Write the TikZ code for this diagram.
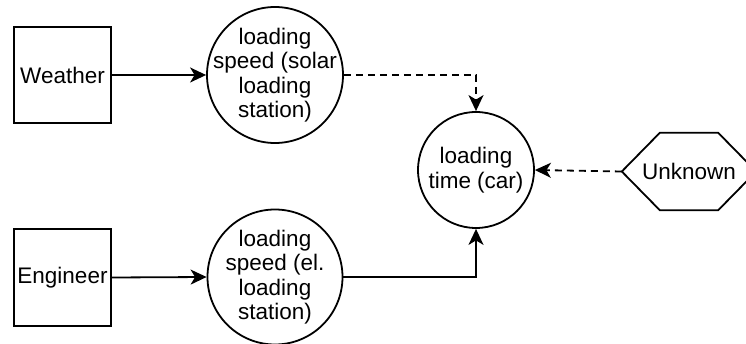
\documentclass[tikz,border=0pt]{standalone}
\usepackage{fontspec}
\setmainfont{Liberation Sans}
\usetikzlibrary{arrows.meta,calc}
\begin{document}
\begin{tikzpicture}[x=1pt,y=-1pt,
  every node/.style={font=\fontsize{22.5}{24.5}\selectfont, text=black, align=center, inner sep=0pt},
  sqbox/.style={draw, line width=1.8pt, minimum width=97pt, minimum height=96pt},
  bubble/.style={draw, circle, line width=1.8pt, minimum size=#1},
  link/.style={line width=1.8pt, -{Stealth[length=16pt,width=15pt,inset=4.5pt]}},
  hint/.style={link, dash pattern=on 7pt off 5pt}
]
\useasboundingbox (0,0) rectangle (746,344);

% input boxes
\node[sqbox] (weather) at (62.5,75) {Weather};
\node[sqbox, minimum height=97pt] (engineer) at (62.5,277.5) {Engineer};

% quantities: fixed-size circles with their labels laid on top
\node[bubble=136pt] (solar) at (275,75) {};
\node at (solar) {loading\\speed (solar\\loading\\station)};
\node[bubble=135pt] (el) at (275,277) {};
\node at (el) {loading\\speed (el.\\loading\\station)};
\node[bubble=116pt] (car) at (476,170) {};
\node at (car) {loading\\time (car)};

% unknown factor drawn as a hexagon around its label
\node[minimum width=134pt, minimum height=77pt] (unk) at (689,171.5) {Unknown};
\draw[line width=1.8pt, line join=miter]
  (unk.west) -- ($(unk.north west)+(38,0)$) -- ($(unk.north east)+(-38,0)$)
  -- (unk.east) -- ($(unk.south east)+(-38,0)$) -- ($(unk.south west)+(38,0)$) -- cycle;

% connectors
\draw[link] (weather.east) -- (solar.west);
\draw[link] (engineer.east) -- (el.west);
\draw[hint] (solar.east) -| (car.north);
\draw[link] (el.east) -| (car.south);
\draw[hint] (unk.west) -- (car.east);
\end{tikzpicture}
\end{document}
